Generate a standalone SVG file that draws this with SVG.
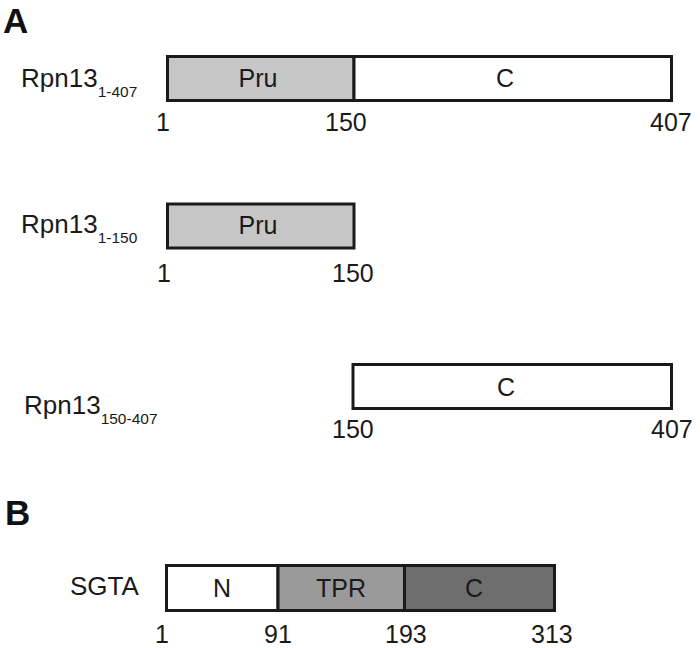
<svg xmlns="http://www.w3.org/2000/svg" width="700" height="648" viewBox="0 0 700 648">
<style>
text{font-family:"Liberation Sans",Arial,sans-serif;fill:#1a1a1a}
.panel{font-size:35px;font-weight:bold;fill:#111}
.lbl{font-size:26px}
.sub{font-size:15.5px}
.dom{font-size:25px;text-anchor:middle}
.num{font-size:25px}
.box{stroke:#1a1a1a;stroke-width:3}
.pru{fill:#c6c6c6}
.wht{fill:#ffffff}
.tpr{fill:#9a9a9a}
.dk{fill:#6e6e6e}
</style>
<rect width="700" height="648" fill="#ffffff"/>
<text class="panel" x="3" y="33">A</text>
<text class="panel" x="5" y="525">B</text>

<g id="rpn13-full">
<text class="lbl" x="21" y="87">Rpn13<tspan class="sub" dy="10">1-407</tspan></text>
<rect class="box pru" x="167.5" y="56.5" width="186.5" height="44"/>
<rect class="box wht" x="354" y="56.5" width="317.5" height="44"/>
<text class="dom" x="258" y="87">Pru</text>
<text class="dom" x="505" y="87">C</text>
<text class="num" x="156" y="131">1</text>
<text class="num" x="325" y="131">150</text>
<text class="num" x="650" y="131">407</text>
</g>

<g id="rpn13-pru">
<text class="lbl" x="21" y="233">Rpn13<tspan class="sub" dy="10">1-150</tspan></text>
<rect class="box pru" x="167.5" y="204" width="186.5" height="44"/>
<text class="dom" x="258" y="234">Pru</text>
<text class="num" x="157" y="282">1</text>
<text class="num" x="332" y="282">150</text>
</g>

<g id="rpn13-c">
<text class="lbl" x="24" y="414">Rpn13<tspan class="sub" dy="10">150-407</tspan></text>
<rect class="box wht" x="353" y="364.5" width="318.5" height="44"/>
<text class="dom" x="506" y="395.5">C</text>
<text class="num" x="332" y="438">150</text>
<text class="num" x="651" y="438">407</text>
</g>

<g id="sgta">
<text class="lbl" x="70" y="595">SGTA</text>
<rect class="box wht" x="166.5" y="565.5" width="111.5" height="45"/>
<rect class="box tpr" x="278" y="565.5" width="126.5" height="45"/>
<rect class="box dk" x="404.5" y="565.5" width="150" height="45"/>
<text class="dom" x="222" y="597">N</text>
<text class="dom" x="341" y="597">TPR</text>
<text class="dom" x="474" y="597">C</text>
<text class="num" x="155" y="643">1</text>
<text class="num" x="264" y="643">91</text>
<text class="num" x="385" y="643">193</text>
<text class="num" x="531" y="643">313</text>
</g>
<g id="connectors"/>
</svg>
